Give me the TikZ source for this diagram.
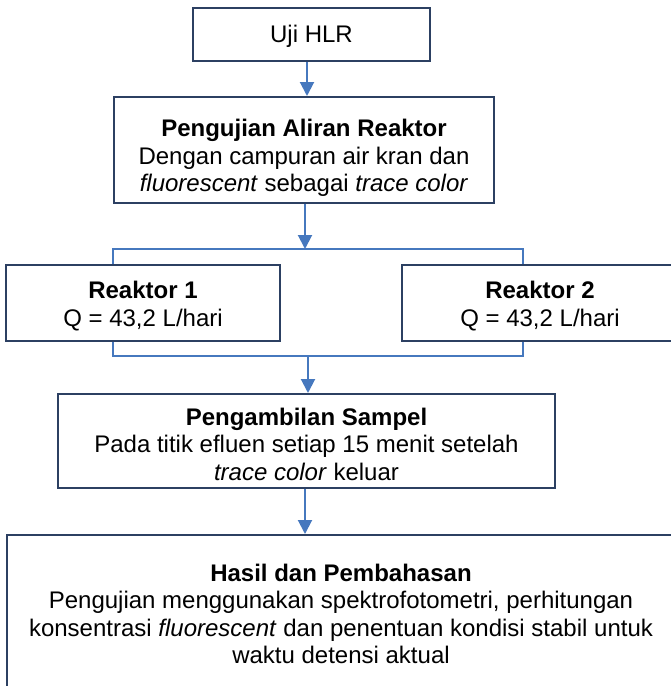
\documentclass[tikz,border=0pt]{standalone}
\usepackage{fontspec}
\setmainfont{Liberation Sans}
\usetikzlibrary{arrows.meta}
\definecolor{boxline}{RGB}{44,64,98}
\definecolor{arrowblue}{RGB}{70,120,190}
\tikzset{
  fbox/.style={draw=boxline, line width=2pt, fill=white, inner sep=0pt},
  ftext/.style={align=center, inner sep=0pt, font=\fontsize{24}{27.5}\selectfont},
  conn/.style={draw=arrowblue, line width=2pt},
  arr/.style={conn, -{Triangle[width=14pt,length=14pt]}},
}
\begin{document}
\begin{tikzpicture}[x=1pt,y=-1pt]
\useasboundingbox (0,0) rectangle (671,686);
\clip (0,0) rectangle (671,686);
\fill[white] (0,0) rectangle (671,686);
\node[fbox, minimum width=237pt, minimum height=53pt] (uji) at (311.5,34.5) {};
\node[ftext] (ujit) at (311.5,36.5) {Uji HLR};
\node[fbox, minimum width=380pt, minimum height=106pt] (alir) at (304,150) {};
\node[ftext] (alirt) at (304,158)
  {\textbf{Pengujian Aliran Reaktor}\\Dengan campuran air kran dan\\\textit{fluorescent} sebagai \textit{trace color}};
\node[fbox, minimum width=274pt, minimum height=76pt] (r1) at (143,303) {};
\node[ftext] (r1t) at (143,306) {\textbf{Reaktor 1}\\Q = 43,2 L/hari};
\node[fbox, minimum width=276pt, minimum height=76pt] (r2) at (540,303) {};
\node[ftext] (r2t) at (540,306) {\textbf{Reaktor 2}\\Q = 43,2 L/hari};
\node[fbox, minimum width=497pt, minimum height=94pt] (samp) at (306.5,441) {};
\node[ftext] (sampt) at (306.5,444)
  {\textbf{Pengambilan Sampel}\\Pada titik efluen setiap 15 menit setelah\\\textit{trace color} keluar};
\node[fbox, minimum width=670pt, minimum height=200pt, anchor=north west] (hasil) at (6,534) {};
\node[ftext] (hasilt) at (341,614)
  {\textbf{Hasil dan Pembahasan}\\Pengujian menggunakan spektrofotometri, perhitungan\\konsentrasi \textit{fluorescent} dan penentuan kondisi stabil untuk\\waktu detensi aktual};
% connectors
\coordinate (b1) at (305,249);
\coordinate (b1l) at (113,249);
\coordinate (b1r) at (523,249);
\coordinate (b2) at (308,356);
\coordinate (b2l) at (113,356);
\coordinate (b2r) at (523,356);
\draw[arr] (uji.south -| 307,0) -- (alir.north -| 307,0);
\draw[arr] (alir.south -| b1) -- (b1);
\draw[conn] (r1.north -| b1l) -- (b1l) -- (b1r) -- (r2.north -| b1r);
\draw[conn] (r1.south -| b2l) -- (b2l) -- (b2r) -- (r2.south -| b2r);
\draw[arr] (b2) -- (samp.north -| b2);
\draw[arr] (samp.south -| 305,0) -- (hasil.north -| 305,0);
\end{tikzpicture}
\end{document}
